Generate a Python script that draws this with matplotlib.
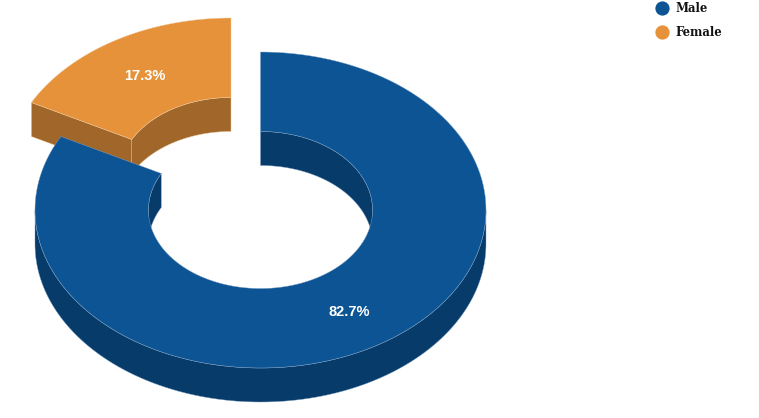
import numpy as np
import matplotlib
matplotlib.use("Agg")
import matplotlib.pyplot as plt
from matplotlib.patches import Polygon

# data
labels = ["Male", "Female"]
values = [82.7, 17.3]
pct_labels = ["82.7%", "17.3%"]

# colours (top, side)
top_colors = ["#0D5494", "#E6923A"]
side_colors = ["#073B6A", "#A1672A"]
edge_colors = ["#7FA3C6", "#F2CDA2"]

# donut geometry in pixels
cx, cy = 260.5, 210
rx, ry = 225.5, 158
hole = 0.497
depth = 34
explode = [(0, 0), (-29.5, -34)]


def arc(a0, a1, f, dx, dy, shift=0):
    # angles in degrees, clockwise from the top
    t = np.radians(np.linspace(a0, a1, 200))
    x = cx + dx + f * rx * np.sin(t)
    y = cy + dy - f * ry * np.cos(t) + shift
    return np.column_stack([x, y])


def wall(a0, a1, f, dx, dy, color, edge, ax, z):
    if a1 <= a0:
        return
    up = arc(a0, a1, f, dx, dy)
    down = arc(a0, a1, f, dx, dy, depth)[::-1]
    ax.add_patch(Polygon(np.vstack([up, down]), closed=True, facecolor=color,
                         edgecolor=edge, linewidth=0.3, zorder=z))


fig = plt.figure(figsize=(7.59, 4.18), dpi=100)
ax = fig.add_axes([0, 0, 1, 1])
ax.set_xlim(0, 759)
ax.set_ylim(418, 0)
ax.axis("off")

# slice angles
ends = np.cumsum(values) / np.sum(values) * 360
starts = np.concatenate([[0], ends[:-1]])

# female slice is drawn first, the male slice lies over it
for i in [1, 0]:
    a0, a1 = starts[i], ends[i]
    dx, dy = explode[i]
    z = 2 if i == 1 else 3
    # hole wall, only the back part can be seen
    wall(a0, min(a1, 90), hole, dx, dy, side_colors[i], edge_colors[i], ax, z)
    wall(max(a0, 270), a1, hole, dx, dy, side_colors[i], edge_colors[i], ax, z)
    # outer wall, only the front part can be seen
    wall(max(a0, 90), min(a1, 270), 1, dx, dy, side_colors[i], edge_colors[i], ax, z)
    # cut face of the exploded slice
    if i == 1:
        p_out = arc(a0, a0, 1, dx, dy)[0]
        p_in = arc(a0, a0, hole, dx, dy)[0]
        face = [p_out, p_in, p_in + [0, depth], p_out + [0, depth]]
        ax.add_patch(Polygon(face, closed=True, facecolor=side_colors[i],
                             edgecolor=edge_colors[i], linewidth=0.3, zorder=z))
    # top face
    top = np.vstack([arc(a0, a1, 1, dx, dy), arc(a0, a1, hole, dx, dy)[::-1]])
    ax.add_patch(Polygon(top, closed=True, facecolor=top_colors[i],
                         edgecolor=edge_colors[i], linewidth=0.3, zorder=z))
    # label
    mid = (a0 + a1) / 2
    p = arc(mid, mid, (1 + hole) / 2, dx, dy)[0]
    ax.text(p[0] + 1.5, p[1] + 1, pct_labels[i], color="white", fontsize=10.5, fontweight="bold",
            family="Liberation Sans", ha="center", va="center", zorder=5)

# legend
legend_y = [8, 32]
for i in range(len(labels)):
    ax.scatter([661.5], [legend_y[i]], s=105, color=top_colors[i], linewidths=0, zorder=5)
    ax.text(675.5, legend_y[i], labels[i], color="#111111", fontsize=8.4, fontweight="bold",
            family="DejaVu Serif", ha="left", va="center", zorder=5)

fig.savefig("out.png", dpi=100)
